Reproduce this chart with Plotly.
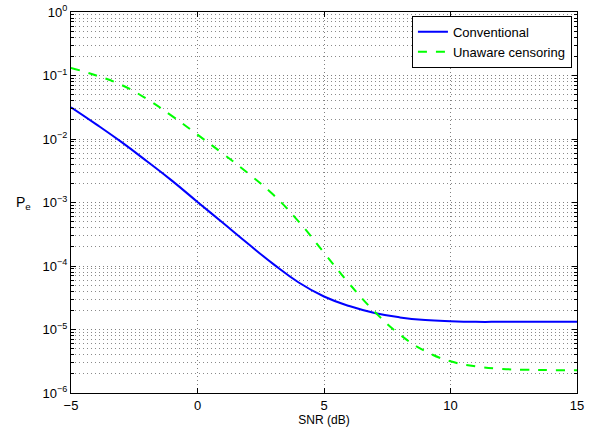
import plotly.graph_objects as go

snr_db = [-5, -4, -3, -2, -1, 0, 1, 2, 3, 4, 5, 6, 7, 8, 9, 10, 11, 12, 13, 14, 15]
pe_conventional = [3.16e-2, 1.70e-2, 8.91e-3, 4.47e-3, 2.19e-3, 1.02e-3, 4.79e-4, 2.24e-4,
                   1.07e-4, 5.50e-5, 3.31e-5, 2.34e-5, 1.82e-5, 1.55e-5, 1.41e-5, 1.35e-5,
                   1.32e-5, 1.32e-5, 1.32e-5, 1.32e-5, 1.32e-5]
pe_unaware = [0.132, 0.100, 0.0708, 0.0427, 0.0229, 0.0117, 5.89e-3, 2.88e-3, 1.32e-3,
              5.01e-4, 1.62e-4, 5.25e-5, 1.91e-5, 8.3e-6, 4.57e-6, 3.16e-6, 2.63e-6,
              2.40e-6, 2.32e-6, 2.29e-6, 2.29e-6]
series_names = ["Conventional", "Unaware censoring"]
x_ticks = [-5, 0, 5, 10, 15]
y_tickvals = [1e-6, 1e-5, 1e-4, 1e-3, 1e-2, 1e-1, 1]
y_ticktext = ["10<sup>−6</sup>", "10<sup>−5</sup>", "10<sup>−4</sup>", "10<sup>−3</sup>",
              "10<sup>−2</sup>", "10<sup>−1</sup>", "10<sup>0</sup>"]

FONT = "Liberation Sans, Arial, Helvetica, sans-serif"
GRID_DASH = "1px,3px"

fig = go.Figure()
fig.add_trace(go.Scatter(x=snr_db, y=pe_conventional, mode="lines", name=series_names[0],
                         line=dict(color="#0000ff", width=2, shape="spline", smoothing=1.3)))
fig.add_trace(go.Scatter(x=snr_db, y=pe_unaware, mode="lines", name=series_names[1],
                         line=dict(color="#00ff00", width=2, dash="dash", shape="spline", smoothing=1.3)))

fig.update_layout(
    width=596, height=436,
    margin=dict(l=71, r=19, t=12, b=43),
    paper_bgcolor="white", plot_bgcolor="white",
    font=dict(family=FONT, size=13, color="black"),
    showlegend=True,
    legend=dict(x=0.99, y=0.99, xanchor="right", yanchor="top",
                bgcolor="white", bordercolor="black", borderwidth=1,
                font=dict(size=13, family=FONT), tracegroupgap=0,
                itemwidth=30),
)
fig.update_xaxes(
    range=[-5, 15], tickvals=x_ticks, ticks="inside", ticklen=5, tickcolor="black",
    showline=True, linecolor="black", linewidth=1, mirror="allticks",
    showgrid=True, gridcolor="#808080", griddash=GRID_DASH, gridwidth=1,
    zeroline=False, tickfont=dict(size=13), automargin=False,
    title=dict(text="SNR (dB)", font=dict(size=12), standoff=3),
)
fig.update_yaxes(
    type="log", range=[-6, 0], tickvals=y_tickvals, ticktext=y_ticktext,
    ticks="inside", ticklen=5, tickcolor="black",
    showline=True, linecolor="black", linewidth=1, mirror="allticks",
    showgrid=True, gridcolor="#808080", griddash=GRID_DASH, gridwidth=1,
    zeroline=False, tickfont=dict(size=13), automargin=False,
    minor=dict(ticks="inside", ticklen=3, tickcolor="black", showgrid=True,
               gridcolor="#8a8a8a", griddash=GRID_DASH, gridwidth=1, dtick="D1"),
)
fig.add_annotation(text="P<sub>e</sub>", xref="paper", yref="paper", x=-0.075, y=0.5,
                   xanchor="right", yanchor="middle", showarrow=False, font=dict(size=14))

fig.write_html("out.html", config={"displayModeBar": False},
               post_script="document.body.style.margin='0px';")
